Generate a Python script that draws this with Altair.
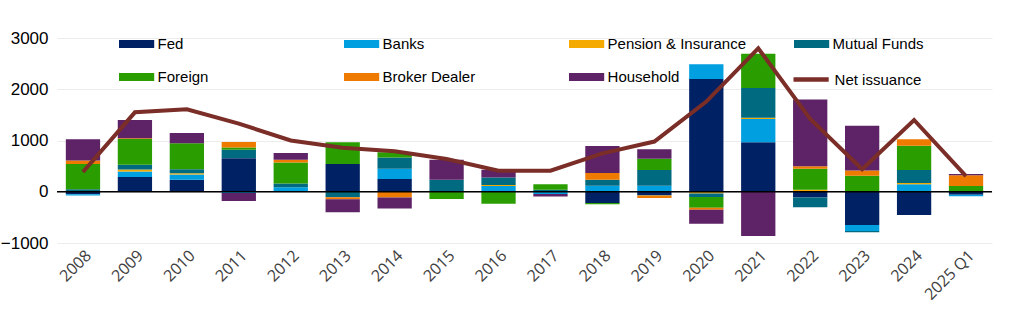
import altair as alt
import pandas as pd

years = ["2008", "2009", "2010", "2011", "2012", "2013", "2014", "2015", "2016",
         "2017", "2018", "2019", "2020", "2021", "2022", "2023", "2024", "2025 Q1"]

series = ["Fed", "Banks", "Pension & Insurance", "Mutual Funds",
          "Foreign", "Broker Dealer", "Household"]
colors = ["#002163", "#009fe0", "#f4aa00", "#006a80", "#2a9e00", "#ee7a00", "#5e2266"]

fed       = [-50, 290, 235, 655, 0, 540, 247, 0, 0, 0, -220, -75, 2200, 965, -110, -650, -455, -60]
banks     = [-25, 105, 100, -25, 90, 0, 200, 0, 110, -45, 115, 115, 290, 455, 0, -115, 145, -30]
pension   = [0, 40, 25, 0, 0, 0, 0, 0, 20, 0, 0, -10, -35, 25, 40, 0, 25, 0]
mutual    = [50, 90, 80, 165, 70, -105, 220, 235, 150, 40, 120, 310, -65, 580, -190, -25, 255, 0]
foreign   = [490, 505, 505, 45, 410, 425, 105, -140, -235, 105, -25, 220, -210, 670, 410, 310, 475, 110]
broker    = [70, 15, 0, 105, 55, -40, -110, 0, 0, 0, 130, -35, -40, 0, 50, 105, 125, 210]
household = [415, 355, 200, -155, 130, -255, -215, 390, 150, -50, 530, 185, -275, -865, 1300, 875, 0, 25]

net = [385, 1550, 1610, 1330, 1000, 860, 790, 640, 410, 410, 750, 980, 1760, 2800, 1420, 440, 1400, 305]

values = [fed, banks, pension, mutual, foreign, broker, household]
rows = []
for si, (name, vals) in enumerate(zip(series, values)):
    for y, v in zip(years, vals):
        rows.append({"year": y, "series": name, "value": v, "order": si})
bars_df = pd.DataFrame(rows)
net_df = pd.DataFrame({"year": years, "net": net, "label": ["Net issuance"] * len(years)})
zero_df = pd.DataFrame({"y": [0]})

FONT = "Liberation Sans"

x_enc = alt.X("year:N", sort=years,
              scale=alt.Scale(paddingInner=0.34, paddingOuter=0.17),
              axis=alt.Axis(title=None, labelAngle=-45, domain=False, ticks=False,
                            labelFontSize=16, labelFont="Open Sans", labelColor="#404040",
                            labelPadding=4))
y_scale = alt.Scale(domain=[-1000, 3000], nice=False)

bars = alt.Chart(bars_df).mark_bar().encode(
    x=x_enc,
    y=alt.Y("value:Q", stack="zero", scale=y_scale,
            axis=alt.Axis(title=None, values=list(range(-1000, 3001, 500)), format="d",
                          domain=False, ticks=False, grid=True, gridColor="#ececec",
                          labelFontSize=17, labelFont=FONT, labelColor="#000000",
                          labelPadding=9)),
    color=alt.Color("series:N", scale=alt.Scale(domain=series, range=colors),
                    legend=alt.Legend(title=None, orient="none", legendX=68.6, legendY=-5,
                                      direction="horizontal",
                                      columns=4, gridAlign="all", columnPadding=47,
                                      rowPadding=14, padding=0,
                                      symbolType="M-1.6,-0.36L1.6,-0.36L1.6,0.36L-1.6,0.36Z",
                                      symbolSize=484, symbolStrokeWidth=0,
                                      labelFont=FONT, labelFontSize=15, labelColor="#000000",
                                      labelOffset=10, labelLimit=300)),
    order=alt.Order("order:Q"),
)

zero = alt.Chart(zero_df).mark_rule(color="#000000", strokeWidth=1.5).encode(
    y=alt.Y("y:Q", scale=y_scale))

line = alt.Chart(net_df).mark_line(strokeWidth=4).encode(
    x=alt.X("year:N", sort=years),
    y=alt.Y("net:Q", scale=y_scale),
    stroke=alt.Stroke("label:N", scale=alt.Scale(domain=["Net issuance"], range=["#7b2d27"]),
                      legend=alt.Legend(title=None, orient="none", legendX=740.6, legendY=28,
                                        padding=0, symbolType="M-1.6,0L1.6,0",
                                        symbolSize=484, symbolStrokeWidth=4.5,
                                        labelFont=FONT, labelFontSize=15, labelColor="#000000",
                                        labelOffset=10, labelLimit=300)),
)

chart = alt.layer(bars, zero, line).resolve_scale(y="shared").properties(
    width=935, height=205,
    autosize=alt.AutoSizeParams(type="none"),
    padding={"left": 57, "top": 38, "right": 32, "bottom": 86},
    background="white",
).configure_view(stroke=None)

chart.save("out.html", embed_options={"renderer": "svg", "actions": False})
